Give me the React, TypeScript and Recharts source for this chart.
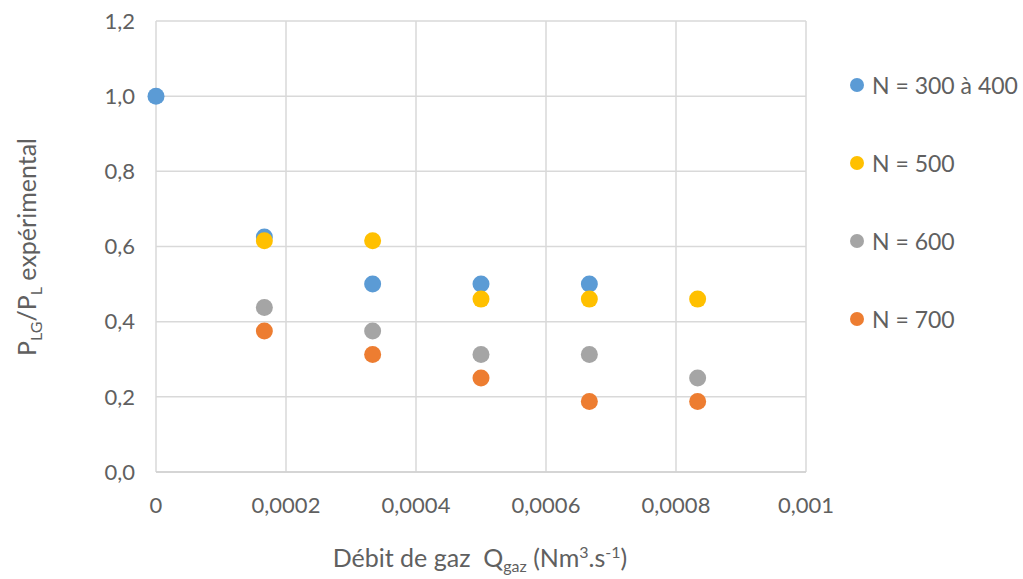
import React from "react";
import {
  ScatterChart,
  Scatter,
  XAxis,
  YAxis,
  CartesianGrid,
  Legend,
} from "recharts";

// gas flow rate, Nm3/s
const qGaz = [0, 0.0001667, 0.0003333, 0.0005, 0.0006667, 0.0008333];

// PLG/PL ratio per rotation speed (null = no measurement)
const n300_400 = [1.0, 0.625, 0.5, 0.5, 0.5, null];
const n500 = [null, 0.615, 0.615, 0.46, 0.46, 0.46];
const n600 = [null, 0.4375, 0.375, 0.3125, 0.3125, 0.25];
const n700 = [null, 0.375, 0.3125, 0.25, 0.1875, 0.1875];

const xTicks = [0, 0.0002, 0.0004, 0.0006, 0.0008, 0.001];
const yTicks = [0, 0.2, 0.4, 0.6, 0.8, 1.0, 1.2];

const FONT = "Lato, 'Open Sans', sans-serif";
const TEXT = "#606060";

const series = [
  { name: "N = 300 à 400", values: n300_400, color: "#5b9bd5", legend: 0 },
  { name: "N = 600", values: n600, color: "#a5a5a5", legend: 2 },
  { name: "N = 700", values: n700, color: "#ed7d31", legend: 3 },
  { name: "N = 500", values: n500, color: "#ffc000", legend: 1 },
];

const legendOrder = [...series].sort((a, b) => a.legend - b.legend);

function toPoints(values: (number | null)[]) {
  return qGaz
    .map((q, i) => ({ q, r: values[i] }))
    .filter((p) => p.r !== null);
}

const fmtX = (v: number) => String(v).replace(".", ",");
const fmtY = (v: number) => v.toFixed(1).replace(".", ",");

function Dot(color: string) {
  return (p: any) => <circle cx={p.cx} cy={p.cy} r={8.5} fill={color} />;
}

function YTitle() {
  return (
    <text
      transform="translate(36,247) rotate(-90)"
      textAnchor="middle"
      fill={TEXT}
      fontSize={25}
      fontFamily={FONT}
    >
      P
      <tspan dy={6} fontSize={16}>LG</tspan>
      <tspan dy={-6}>/P</tspan>
      <tspan dy={6} fontSize={16}>L</tspan>
      <tspan dy={-6}> expérimental</tspan>
    </text>
  );
}

function XTitle() {
  return (
    <text
      x={480}
      y={567}
      textAnchor="middle"
      fill={TEXT}
      fontSize={25}
      fontFamily={FONT}
    >
      {"Débit de gaz \u00a0Q"}
      <tspan dy={5} fontSize={16}>gaz</tspan>
      <tspan dy={-5}> (Nm</tspan>
      <tspan dy={-9} fontSize={16}>3</tspan>
      <tspan dy={9}>.s</tspan>
      <tspan dy={-9} fontSize={16}>-1</tspan>
      <tspan dy={9}>)</tspan>
    </text>
  );
}

function SideLegend() {
  return (
    <div style={{ fontFamily: FONT, fontSize: 23, color: TEXT }}>
      {legendOrder.map((s) => (
        <div
          key={s.name}
          style={{ height: 78, display: "flex", alignItems: "flex-start" }}
        >
          <svg width={24} height={28}>
            <circle cx={9} cy={14} r={7} fill={s.color} />
          </svg>
          <span style={{ lineHeight: "28px", whiteSpace: "nowrap" }}>{s.name}</span>
        </div>
      ))}
    </div>
  );
}

export default function App() {
  return (
    <div style={{ position: "absolute", left: 0, top: 0, background: "#fff" }}>
      <ScatterChart
        width={1023}
        height={579}
        margin={{ top: 21, right: 217, bottom: 0, left: 0 }}
      >
        <CartesianGrid stroke="#d9d9d9" strokeWidth={1.5} />
        <XAxis
          type="number"
          dataKey="q"
          domain={[0, 0.001]}
          ticks={xTicks}
          tickFormatter={fmtX}
          height={107}
          tickSize={0}
          tickMargin={25}
          axisLine={{ stroke: "#d0d0d0", strokeWidth: 1.5 }}
          tick={{ fill: TEXT, fontSize: 22, fontFamily: FONT }}
          label={<XTitle />}
        />
        <YAxis
          type="number"
          dataKey="r"
          domain={[0, 1.2]}
          ticks={yTicks}
          tickFormatter={fmtY}
          width={156}
          tickSize={0}
          tickMargin={21}
          axisLine={false}
          tick={{ fill: TEXT, fontSize: 22, fontFamily: FONT }}
          label={<YTitle />}
        />
        <Legend
          layout="vertical"
          align="center"
          verticalAlign="middle"
          wrapperStyle={{ left: 848, top: 71, width: 175 }}
          content={<SideLegend />}
        />
        {series.map((s) => (
          <Scatter
            key={s.name}
            name={s.name}
            data={toPoints(s.values)}
            fill={s.color}
            shape={Dot(s.color)}
            isAnimationActive={false}
          />
        ))}
      </ScatterChart>
    </div>
  );
}
